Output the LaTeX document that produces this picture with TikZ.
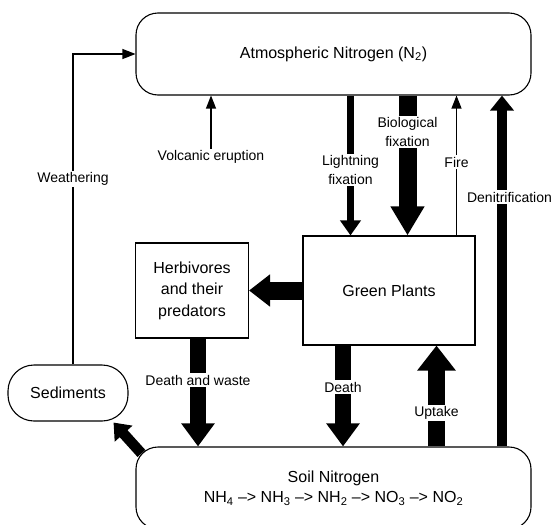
\documentclass[tikz,border=0pt]{standalone}
\usepackage{fontspec}
\setmainfont{Liberation Sans}
\usetikzlibrary{arrows.meta,calc}

\begin{document}
\begin{tikzpicture}[x=1pt, y=-1pt,
    pool/.style={draw, line width=1.1pt, rounded corners=22pt, inner sep=0pt,
        align=center, font=\fontsize{16}{20}\selectfont},
    plainbox/.style={draw, line width=1.1pt, inner sep=0pt,
        align=center, font=\fontsize{16}{21.5}\selectfont},
    lbl/.style={fill=white, inner sep=1.5pt, align=center,
        font=\fontsize{14}{18.5}\selectfont},
    fineflow/.style={line width=1.2pt, -{Triangle[width=10pt,length=13pt]}},
    slimflow/.style={line width=7pt, -{Triangle[width=20pt,length=15pt]}},
    sideflow/.style={line width=10.5pt, -{Triangle[width=23pt,length=15pt]}},
    midflow/.style={line width=16pt, -{Triangle[width=32pt,length=23pt]}},
    heavyflow/.style={line width=18pt, -{Triangle[width=31pt,length=21pt]}},
    bioflow/.style={line width=18pt, -{Triangle[width=32pt,length=29pt]}},
    upflow/.style={line width=17pt, -{Triangle[width=37pt,length=25pt]}}]
\useasboundingbox (0,0) rectangle (552,525);

% pools and boxes
\node[pool, minimum width=395pt, minimum height=82pt] (atm) at (333.5,54)
    {Atmospheric Nitrogen (N\textsubscript{2})};
\node[pool, minimum width=395pt, minimum height=82pt] (soil) at (333.5,488)
    {Soil Nitrogen\\NH\textsubscript{4} \textendash{}> NH\textsubscript{3}
     \textendash{}> NH\textsubscript{2} \textendash{}> NO\textsubscript{3}
     \textendash{}> NO\textsubscript{2}};
\node[pool, rounded corners=26pt, minimum width=120pt, minimum height=56pt] (sed)
    at (68,393) {Sediments};
\node[plainbox, minimum width=113pt, minimum height=95pt] (herb) at (192,290.5)
    {Herbivores\\and their\\predators};
\node[plainbox, minimum width=172pt, minimum height=109pt] (plants) at (389,290.5)
    {Green Plants};

% where the flows run
\coordinate (weath) at (73,179);
\coordinate (light) at (350.5,170);
\coordinate (bio) at (407.5,132);
\coordinate (fire) at (456.5,162);
\coordinate (deni) at (502,197);
\coordinate (dw) at (198,380);
\coordinate (death) at (343,387);
\coordinate (upt) at (436.5,413);

% flows
\node[lbl] (lvolc) at (211,157) {Volcanic eruption};
\draw[fineflow] (lvolc.north) -- (atm.south -| lvolc);
\draw[fineflow] (sed.north -| weath) |- (atm.west);
\draw[slimflow] (atm.south -| light) -- (plants.north -| light);
\draw[bioflow] (atm.south -| bio) -- (plants.north -| bio);
\draw[fineflow] (plants.north -| fire) -- (atm.south -| fire);
\draw[sideflow] (soil.north -| deni) -- (atm.south -| deni);
\draw[heavyflow] (plants.west) -- (herb.east);
\draw[midflow] (herb.south -| dw) -- (soil.north -| dw);
\draw[midflow] (plants.south -| death) -- (soil.north -| death);
\draw[upflow] (soil.north -| upt) -- (plants.south -| upt);
\draw[sideflow] ($(soil.north west)+(6,7)$) -- ($(sed.south east)+(-15,1)$);

% labels
\node[lbl] (lweath) at (weath) {Weathering};
\node[lbl] (llight) at (light) {Lightning\\fixation};
\node[lbl] (lbio) at (bio) {Biological\\fixation};
\node[lbl] (lfire) at (fire) {Fire};
\node[lbl] (ldeni) at (509.5,197) {Denitrification};
\node[lbl] (ldw) at (dw) {Death and waste};
\node[lbl] (ldeath) at (death) {Death};
\node[lbl] (lupt) at (upt) {Uptake};
\end{tikzpicture}
\end{document}
